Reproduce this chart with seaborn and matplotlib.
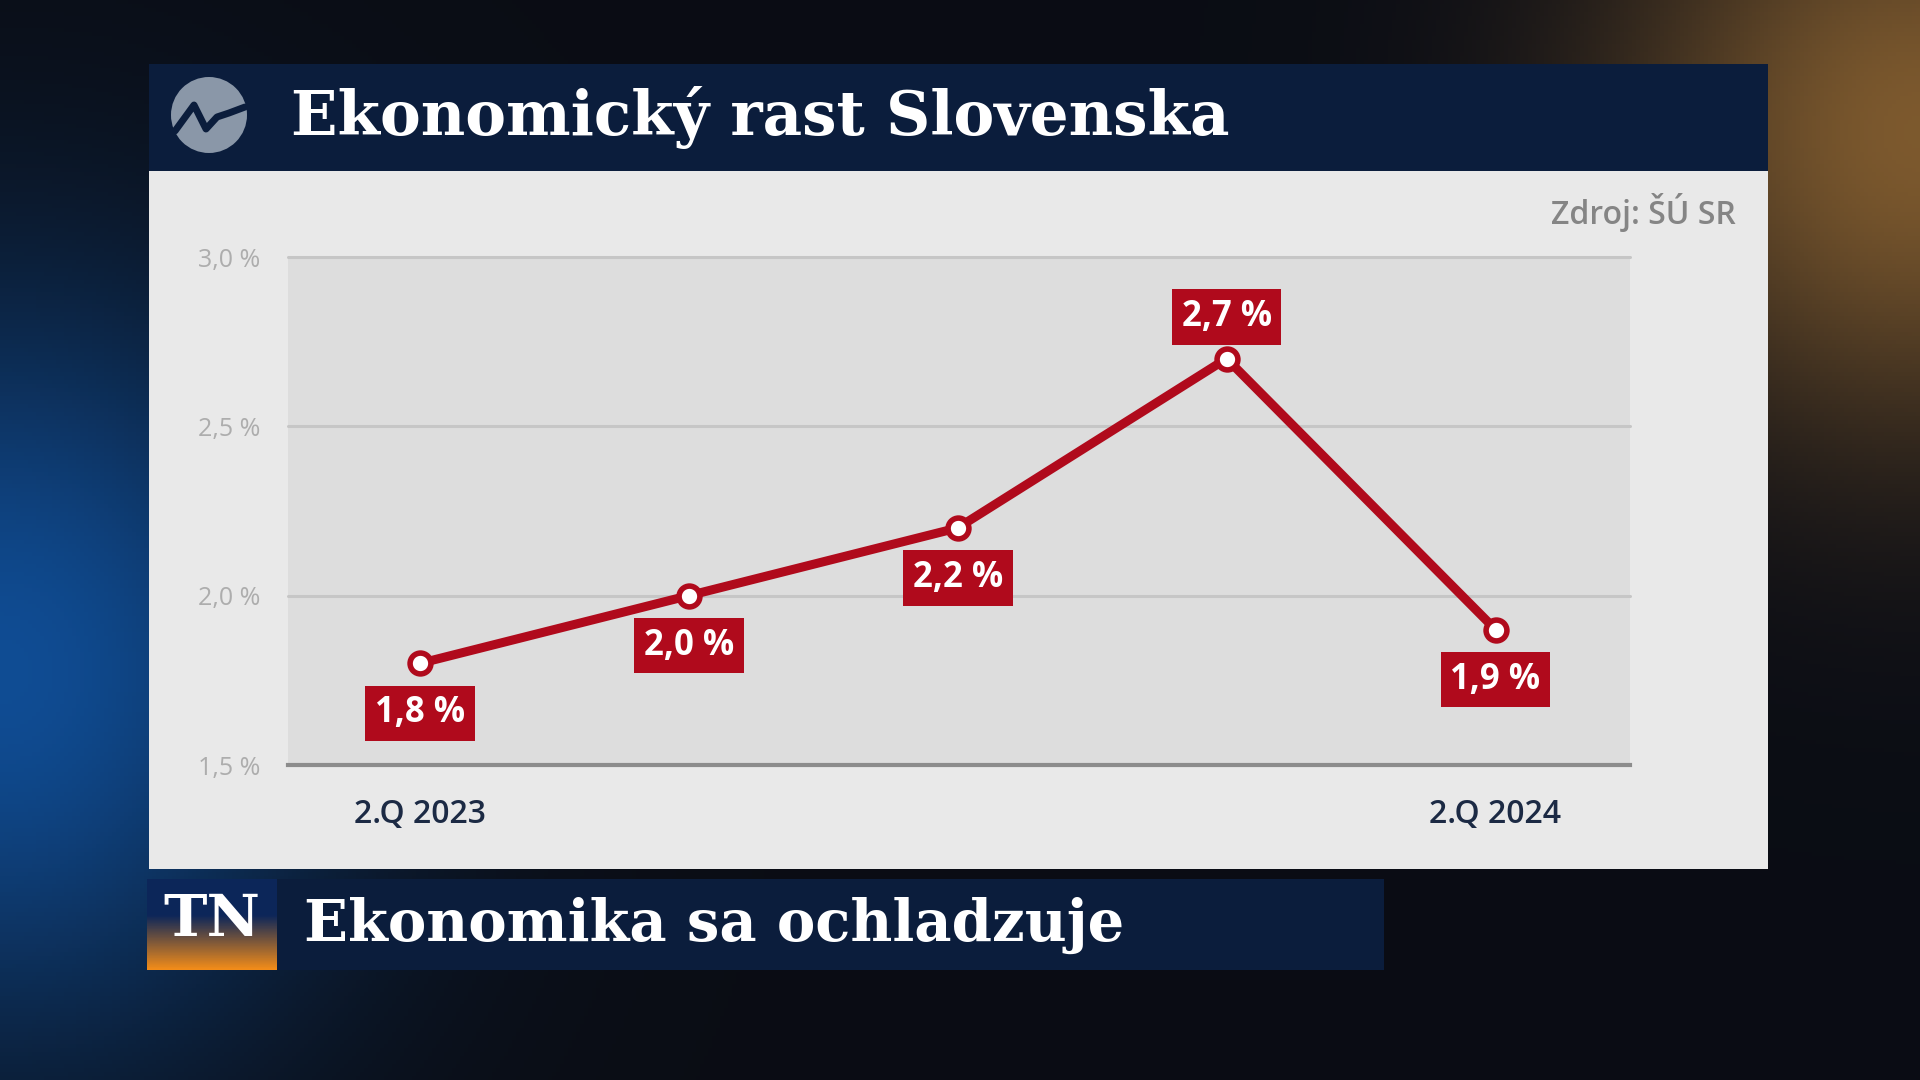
import numpy as np
import matplotlib
matplotlib.use("Agg")
import matplotlib.pyplot as plt
import seaborn as sns
import pandas as pd
from matplotlib.patches import Rectangle, Ellipse

# ---------------- data ----------------
quarters = ["2.Q 2023", "3.Q 2023", "4.Q 2023", "1.Q 2024", "2.Q 2024"]
growth = [1.8, 2.0, 2.2, 2.7, 1.9]
value_labels = ["1,8 %", "2,0 %", "2,2 %", "2,7 %", "1,9 %"]
label_above = [False, False, False, True, False]
x_tick_labels = ["2.Q 2023", "", "", "", "2.Q 2024"]
y_ticks = [1.5, 2.0, 2.5, 3.0]
y_tick_labels = ["1,5 %", "2,0 %", "2,5 %", "3,0 %"]
title_text = "Ekonomický rast Slovenska"
source_text = "Zdroj: ŠÚ SR"
ticker_text = "Ekonomika sa ochladzuje"

RED = "#b00a1c"
NAVY = "#0b1d3c"

sns.set_theme(style="white")
plt.rcParams["font.family"] = ["Open Sans", "DejaVu Sans"]

W_PX, H_PX = 1920, 1080
fig = plt.figure(figsize=(19.2, 10.8), dpi=100)

def fx(px):
    return px / W_PX

def fy(py):  # py measured from top
    return 1 - py / H_PX

# ---------------- background ----------------
bg = fig.add_axes([0, 0, 1, 1])
bg.set_axis_off()
H, W = 270, 480
yy, xx = np.mgrid[0:H, 0:W]
u = xx / W
v = yy / H
blue = np.exp(-((u - 0.0) ** 2 / 0.03 + (v - 0.62) ** 2 / 0.12))
orange = np.exp(-((u - 1.0) ** 2 / 0.025 + (v - 0.12) ** 2 / 0.08))
base = np.array([0.04, 0.05, 0.08])
img = base[None, None, :] + blue[..., None] * np.array([0.02, 0.25, 0.50]) \
    + orange[..., None] * np.array([0.45, 0.30, 0.10])
img = np.clip(img, 0, 1)
bg.imshow(img, extent=[0, 1, 0, 1], aspect="auto", origin="upper", zorder=0)
bg.set_xlim(0, 1)
bg.set_ylim(0, 1)

# white panel
bg.add_patch(Rectangle((fx(149), fy(869)), fx(1768 - 149), (869 - 171) / H_PX,
                       fc="#e9e9e9", ec="none", zorder=1))
# title bar
bg.add_patch(Rectangle((fx(149), fy(171)), fx(1768 - 149), (171 - 64) / H_PX,
                       fc=NAVY, ec="none", zorder=2))
bg.text(fx(291), fy(117), title_text, color="white", fontsize=44,
        fontweight="bold", family=["DejaVu Serif"], va="center", ha="left", zorder=3)

# logo
cx, cy, r = 209, 115, 38
bg.add_patch(Ellipse((fx(cx), fy(cy)), 2 * r / W_PX, 2 * r / H_PX,
                     fc="#8a97a8", ec="none", zorder=3))
zig = np.array([[-34, 16], [-15, -10], [-3, 14], [8, 2], [20, -2], [36, -8]])
bg.plot(fx(cx + zig[:, 0]), fy(cy + zig[:, 1]), color=NAVY, lw=5,
        solid_joinstyle="round", zorder=4)

# source
bg.text(fx(1736), fy(212), source_text, color="#858585", fontsize=23,
        fontweight="semibold", ha="right", va="center", zorder=3)

# bottom ticker
bg.add_patch(Rectangle((fx(147), fy(970)), fx(1384 - 147), (970 - 879) / H_PX,
                       fc=NAVY, ec="none", zorder=2))
bg.text(fx(304), fy(925), ticker_text, color="white", fontsize=41.5,
        fontweight="bold", family=["DejaVu Serif"], va="center", ha="left", zorder=3)

# TN logo box with gradient
tn_ax = fig.add_axes([fx(147), fy(970), fx(277 - 147), (970 - 879) / H_PX])
tn_ax.set_axis_off()
g = np.linspace(0, 1, 60)[:, None]
top = np.array([0.05, 0.15, 0.35])
bot = np.array([0.95, 0.55, 0.10])
tmix = np.clip((g - 0.40) / 0.60, 0, 1)[..., None]
grad = top * (1 - tmix) + bot * tmix
grad = np.repeat(grad, 10, axis=1)
tn_ax.imshow(grad, extent=[0, 1, 0, 1], aspect="auto", origin="upper")
tn_ax.text(0.5, 0.55, "TN", color="white", fontsize=42, fontweight="bold",
           family=["DejaVu Serif"], ha="center", va="center", transform=tn_ax.transAxes)

# ---------------- chart ----------------
ax = fig.add_axes([fx(288), fy(765), fx(1630 - 288), (765 - 257) / H_PX])
ax.set_facecolor("#dddddd")
df = pd.DataFrame({"idx": np.arange(len(quarters)), "growth": growth, "q": quarters})

for yt in y_ticks[1:]:
    ax.axhline(yt, color="#c6c6c6", lw=2.2, zorder=1, clip_on=False)

sns.lineplot(data=df, x="idx", y="growth", ax=ax, color=RED, lw=6.5,
             marker="o", markersize=15, markerfacecolor="white",
             markeredgecolor=RED, markeredgewidth=4, zorder=5, clip_on=False)

for i, (val, lab, above) in enumerate(zip(growth, value_labels, label_above)):
    off = 30 if above else -36
    ax.annotate(lab, (i, val), xytext=(0, off), textcoords="offset points",
                ha="center", va="center", color="white", fontsize=25,
                fontweight="bold", zorder=6,
                bbox=dict(boxstyle="square,pad=0.28", fc=RED, ec="none"))

ax.set_xlim(-0.49, 4.5)
ax.set_ylim(1.5, 3.0)
ax.set_yticks(y_ticks)
ax.set_yticklabels(y_tick_labels)
ax.set_xticks(range(len(quarters)))
ax.set_xticklabels(x_tick_labels, fontweight="semibold")
ax.tick_params(axis="y", length=0, pad=20, labelsize=18, labelcolor="#adadad")
ax.tick_params(axis="x", length=0, pad=24, labelsize=23, labelcolor="#1c2a44")
ax.set_xlabel("")
ax.set_ylabel("")
for s in ["left", "right", "top"]:
    ax.spines[s].set_visible(False)
ax.spines["bottom"].set_color("#8c8c8c")
ax.spines["bottom"].set_linewidth(3)

fig.savefig("out.png", dpi=100)
